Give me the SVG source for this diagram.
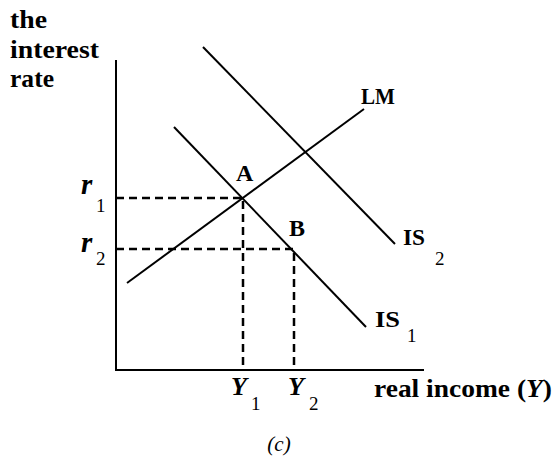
<svg xmlns="http://www.w3.org/2000/svg" width="557" height="460" viewBox="0 0 557 460">
<style>
.t{font-family:"Liberation Serif","Times New Roman",serif;font-weight:bold;fill:#000}
.sub{font-family:"Liberation Serif","Times New Roman",serif;fill:#000;font-size:19px}
.ax{stroke:#000;stroke-width:2;fill:none}
.ln{stroke:#000;stroke-width:2;fill:none}
.ds{stroke:#000;stroke-width:2.5;fill:none;stroke-dasharray:8 5}
</style>
<rect width="557" height="460" fill="#fff"/>
<g id="axes">
<path class="ax" d="M116 60 V370 H424"/>
<text class="t" x="10" y="28" font-size="26" textLength="37" lengthAdjust="spacingAndGlyphs">the</text>
<text class="t" x="10" y="58" font-size="26" textLength="89" lengthAdjust="spacingAndGlyphs">interest</text>
<text class="t" x="10" y="87" font-size="26" textLength="44" lengthAdjust="spacingAndGlyphs">rate</text>
<text class="t" x="374" y="397" font-size="25" textLength="178" lengthAdjust="spacingAndGlyphs">real income (<tspan font-style="italic">Y</tspan>)</text>
</g>
<g id="connectors">
<line id="LM-line" class="ln" x1="127" y1="283" x2="364" y2="109"/>
<line id="IS1-line" class="ln" x1="174" y1="127" x2="366" y2="327"/>
<line id="IS2-line" class="ln" x1="203" y1="47" x2="395" y2="244"/>
<path class="ds" d="M116 198 H243 V370"/>
<path class="ds" d="M116 249 H294 V370"/>
</g>
<g id="LM"><text class="t" x="361" y="104" font-size="24" textLength="34" lengthAdjust="spacingAndGlyphs">LM</text></g>
<g id="IS2"><text class="t" x="403" y="245" font-size="24" textLength="22" lengthAdjust="spacingAndGlyphs">IS</text><text class="sub" x="435" y="265">2</text></g>
<g id="IS1"><text class="t" x="375" y="327" font-size="24" textLength="25" lengthAdjust="spacingAndGlyphs">IS</text><text class="sub" x="407" y="342">1</text></g>
<g id="A"><text class="t" x="236" y="181" font-size="24">A</text></g>
<g id="B"><text class="t" x="289" y="236" font-size="24">B</text></g>
<g id="r1"><text class="t" x="81" y="194" font-size="29" font-style="italic">r</text><text class="sub" x="96" y="212">1</text></g>
<g id="r2"><text class="t" x="81" y="252" font-size="29" font-style="italic">r</text><text class="sub" x="96" y="265">2</text></g>
<g id="Y1"><text class="t" x="231" y="395" font-size="26" font-style="italic">Y</text><text class="sub" x="251" y="410">1</text></g>
<g id="Y2"><text class="t" x="288" y="395" font-size="26" font-style="italic">Y</text><text class="sub" x="309" y="410">2</text></g>
<g id="caption"><text x="279" y="451" font-family="Liberation Serif, serif" font-style="italic" font-size="21" text-anchor="middle">(c)</text></g>
</svg>
